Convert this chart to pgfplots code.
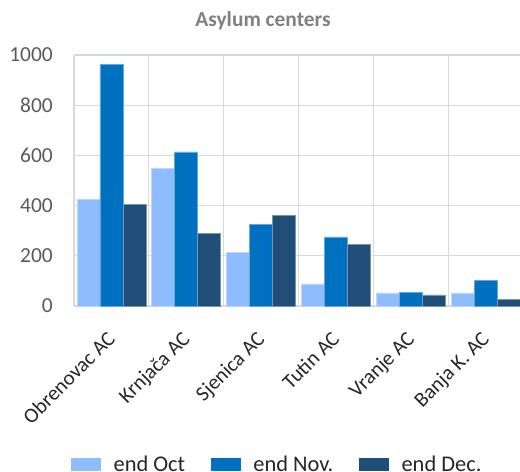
\documentclass[border=0pt]{standalone}
\usepackage{pgfplots}
\pgfplotsset{compat=1.18}
\usepackage{fontspec}
\setmainfont{Carlito}
\definecolor{cOct}{HTML}{8FBCFF}
\definecolor{cNov}{HTML}{0070C0}
\definecolor{cDec}{HTML}{1F4E79}
\definecolor{gridc}{HTML}{D9D9D9}
\definecolor{txt}{HTML}{595959}
\begin{document}
\begin{tikzpicture}
\begin{axis}[
  scale only axis,
  width=449bp, height=251bp,
  xmin=-0.5, xmax=5.5, ymin=0, ymax=1000,
  ytick={0,200,...,1000},
  xtick={0,...,5},
  xticklabels={Obrenovac AC, Krnjača AC, Sjenica AC, Tutin AC, Vranje AC, Banja K. AC},
  minor xtick={-0.5,0.5,...,5.5},
  ymajorgrids, xminorgrids,
  grid style={gridc, line width=1.2bp},
  minor grid style={gridc, line width=1.2bp},
  axis line style={draw=none},
  major tick length=0pt, minor tick length=0pt,
  tick style={draw=none},
  ticklabel style={font=\fontsize{21.5}{24}\selectfont, text=txt},
  /pgf/number format/assume math mode=true,
  /pgf/number format/1000 sep={},
  yticklabel style={inner sep=0pt, xshift=-21bp},
  xticklabel style={font=\fontsize{21}{24}\selectfont, anchor=north east, inner sep=0pt, xshift=-5.5bp, yshift=-23.8bp, rotate=45, text=black!85},
  ybar, bar width=23bp,
  legend columns=3,
  legend style={draw=none, fill=none, at={(axis description cs:-0.013,-0.63)}, anchor=west,
     font=\fontsize{22.5}{25}\selectfont, text=black!85,
     /tikz/every even column/.append style={column sep=24bp}},
  legend image code/.code={\fill[#1,draw=none] (0bp,-6.5bp) rectangle (30bp,6.5bp); \path (40bp,0bp);},
  clip=false,
]
\addplot[fill=cOct, draw=cOct!60!white, line width=0.5bp, bar shift=-23bp] coordinates {(0,425) (1,549) (2,215) (3,88) (4,52) (5,52)};
\addplot[fill=cNov, draw=cNov!60!white, line width=0.5bp, bar shift=0bp] coordinates {(0,963) (1,614) (2,325) (3,275) (4,55) (5,101)};
\addplot[fill=cDec, draw=cDec!60!white, line width=0.5bp, bar shift=23bp] coordinates {(0,406) (1,288) (2,362) (3,246) (4,44) (5,27)};
\legend{end Oct, end Nov., end Dec.}
\coordinate (ll) at (rel axis cs:0,0);
\end{axis}
\node[font=\bfseries\fontsize{21.5}{24}\selectfont, text=black!50] at ([shift={(189bp,285bp)}]ll) {Asylum centers};
\pgfresetboundingbox
\path ([shift={(-74bp,-166bp)}]ll) rectangle ([shift={(446bp,306bp)}]ll);
\end{tikzpicture}
\end{document}
